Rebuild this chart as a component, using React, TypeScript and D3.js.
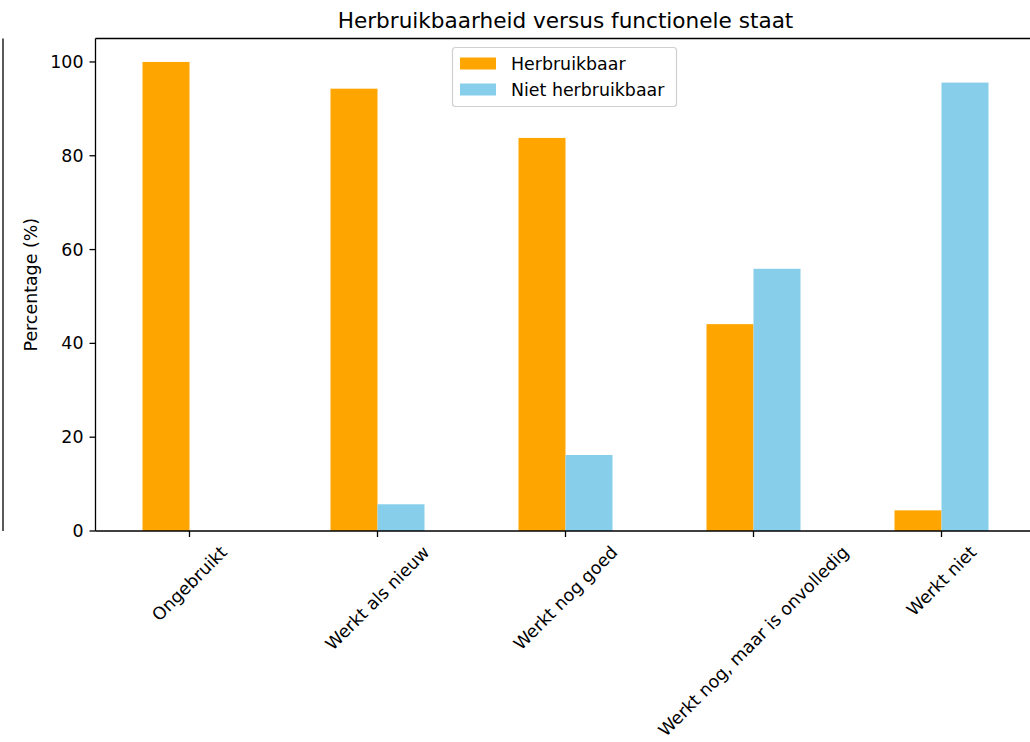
import React, { useEffect, useRef } from "react";
import * as d3 from "d3";

const categories = [
  "Ongebruikt",
  "Werkt als nieuw",
  "Werkt nog goed",
  "Werkt nog, maar is onvolledig",
  "Werkt niet",
];
const herbruikbaar = [100, 94.3, 83.8, 44.1, 4.4];
const nietHerbruikbaar = [0, 5.7, 16.2, 55.9, 95.6];
const yTicks = [0, 20, 40, 60, 80, 100];
const seriesNames = ["Herbruikbaar", "Niet herbruikbaar"];
const seriesColors = ["#FFA500", "#87CEEB"];
const titleText = "Herbruikbaarheid versus functionele staat";
const yLabelText = "Percentage (%)";

const W = 1030;
const H = 742;
const FONT = "'DejaVu Sans', sans-serif";
const TICK_FS = 17.4;
const TITLE_FS = 21.6;

export default function App() {
  const ref = useRef<SVGSVGElement | null>(null);

  useEffect(() => {
    const svg = d3.select(ref.current);
    svg.selectAll("*").remove();

    const left = 95.5, right = 1035.5, top = 38.5, bottom = 531;
    const x = d3.scaleLinear().domain([-0.5, categories.length - 0.5]).range([left, right]);
    const y = d3.scaleLinear().domain([0, 105]).range([bottom, top]);
    const barW = 0.25;

    svg.append("rect").attr("width", W).attr("height", H).attr("fill", "#fff");

    // fragment of neighbouring axes
    svg.append("line").attr("x1", 3).attr("x2", 3).attr("y1", top).attr("y2", bottom)
      .attr("stroke", "#000").attr("stroke-width", 1.3);

    const series = [herbruikbaar, nietHerbruikbaar];
    series.forEach((vals, si) => {
      svg.append("g").selectAll("rect").data(vals).join("rect")
        .attr("x", (_d, i) => x(i - barW + si * barW))
        .attr("width", (_d, i) => x(i + si * barW) - x(i - barW + si * barW))
        .attr("y", (d) => y(d))
        .attr("height", (d) => y(0) - y(d))
        .attr("fill", seriesColors[si]);
    });

    // spines
    const sp = svg.append("g").attr("stroke", "#000").attr("stroke-width", 1.3).attr("fill", "none");
    sp.append("line").attr("x1", left).attr("x2", left).attr("y1", top).attr("y2", bottom);
    sp.append("line").attr("x1", left).attr("x2", W).attr("y1", top).attr("y2", top);
    sp.append("line").attr("x1", left).attr("x2", W).attr("y1", bottom).attr("y2", bottom);

    // y ticks
    const yt = svg.append("g");
    yTicks.forEach((t) => {
      yt.append("line").attr("x1", left - 6).attr("x2", left).attr("y1", y(t)).attr("y2", y(t))
        .attr("stroke", "#000").attr("stroke-width", 1.3);
      yt.append("text").attr("x", left - 12).attr("y", y(t)).attr("dy", "0.35em")
        .attr("text-anchor", "end").attr("font-family", FONT).attr("font-size", TICK_FS)
        .attr("fill", "#000").text(String(t));
    });

    // x ticks
    const xt = svg.append("g");
    categories.forEach((c, i) => {
      xt.append("line").attr("x1", x(i)).attr("x2", x(i)).attr("y1", bottom).attr("y2", bottom + 6)
        .attr("stroke", "#000").attr("stroke-width", 1.3);
      const txt = xt.append("text").attr("font-family", FONT).attr("font-size", TICK_FS)
        .attr("fill", "#000").attr("text-anchor", "middle").attr("dominant-baseline", "central")
        .text(c);
      const L = (txt.node() as SVGTextElement).getComputedTextLength();
      const h = TICK_FS * 1.17;
      const bb = (L + h) * Math.SQRT1_2;
      const cy = bottom + 11 + bb / 2;
      txt.attr("transform", `translate(${x(i)},${cy}) rotate(-45)`);
    });

    // y label
    svg.append("text").attr("transform", `translate(31,${(top + bottom) / 2}) rotate(-90)`)
      .attr("text-anchor", "middle").attr("dominant-baseline", "central")
      .attr("font-family", FONT).attr("font-size", TICK_FS).attr("fill", "#000").text(yLabelText);

    // title
    svg.append("text").attr("x", (left + right) / 2).attr("y", 28)
      .attr("text-anchor", "middle").attr("font-family", FONT).attr("font-size", TITLE_FS)
      .attr("fill", "#000").text(titleText);

    // legend
    const lg = svg.append("g");
    lg.append("rect").attr("x", 452.5).attr("y", 47.5).attr("width", 224).attr("height", 59)
      .attr("rx", 3).attr("fill", "#fff").attr("fill-opacity", 0.8)
      .attr("stroke", "#d0d0d0").attr("stroke-width", 1.2);
    seriesNames.forEach((n, i) => {
      const cy = 63.5 + i * 26;
      lg.append("rect").attr("x", 460).attr("y", cy - 6).attr("width", 36).attr("height", 12)
        .attr("fill", seriesColors[i]);
      lg.append("text").attr("x", 511).attr("y", cy).attr("dy", "0.35em")
        .attr("font-family", FONT).attr("font-size", TICK_FS).attr("fill", "#000").text(n);
    });
  }, []);

  return (
    <svg ref={ref} width={W} height={H}
      style={{ position: "absolute", left: 0, top: 0, display: "block" }} />
  );
}
